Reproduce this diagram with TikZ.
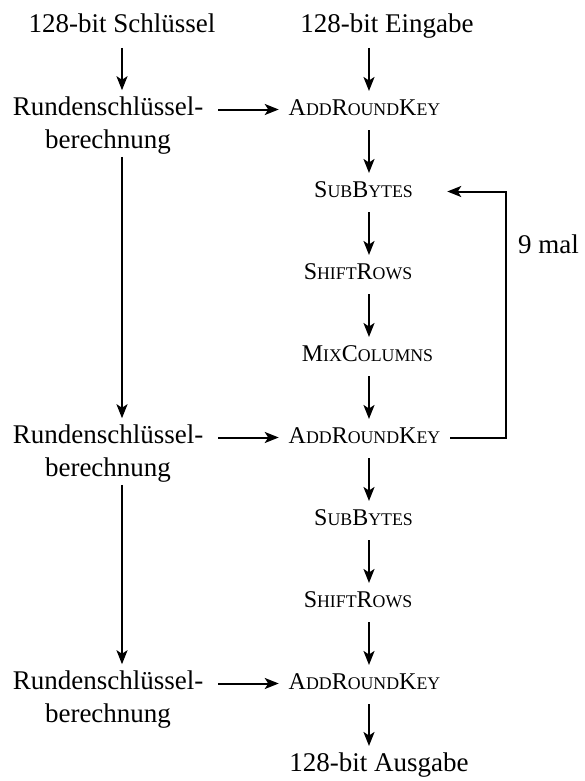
\documentclass[tikz,border=0pt]{standalone}
\usepackage{fontspec}
\setmainfont{Liberation Serif}
\usetikzlibrary{arrows.meta,calc}
\newcommand\fsc[1]{{\fontsize{17.8bp}{20bp}\selectfont #1}}
\begin{document}
\begin{tikzpicture}[x=1bp,y=-1bp,
  txt/.style={font=\fontsize{27bp}{33bp}\selectfont, inner sep=0pt, outer sep=0pt, text height=19bp, text depth=7bp, anchor=base},
  rk/.style={font=\fontsize{27bp}{33bp}\selectfont, inner sep=0pt, outer sep=0pt, align=center, anchor=base},
  op/.style={font=\fontsize{24bp}{28bp}\selectfont, inner sep=0pt, outer sep=0pt, text height=18bp, text depth=7bp, anchor=base},
  conn/.style={line width=2bp, -{Stealth[length=14bp,width=11bp,inset=3.5bp]}},
  flow/.style={conn, shorten <=8bp, shorten >=6bp},
  side/.style={conn, shorten <=15bp, shorten >=10bp}]
\useasboundingbox (0,0) rectangle (585,781);
% column coordinates
\coordinate (c) at (369,0);
\coordinate (lx) at (506,0);
% top row
\node[txt] (key) at (122,33) {128-bit Schlüssel};
\node[txt] (in) at (387,33) {128-bit Eingabe};
% right column
\node[op] (ark1) at (364.5,115) {A\fsc{DD}R\fsc{OUND}K\fsc{EY}};
\node[op] (sb1) at (363.5,197) {S\fsc{UB}B\fsc{YTES}};
\node[op] (sr1) at (358,279) {S\fsc{HIFT}R\fsc{OWS}};
\node[op] (mc) at (367.5,361) {M\fsc{IX}C\fsc{OLUMNS}};
\node[op] (ark2) at (364.5,443) {A\fsc{DD}R\fsc{OUND}K\fsc{EY}};
\node[op] (sb2) at (363.5,525) {S\fsc{UB}B\fsc{YTES}};
\node[op] (sr2) at (358,607) {S\fsc{HIFT}R\fsc{OWS}};
\node[op] (ark3) at (364.5,689) {A\fsc{DD}R\fsc{OUND}K\fsc{EY}};
\node[txt] (out) at (379,771) {128-bit Ausgabe};
% left column (base anchor = baseline of last line)
\node[rk] (rk1) at (108,148) {Rundenschlüssel-\\berechnung};
\node[rk] (rk2) at (108,476) {Rundenschlüssel-\\berechnung};
\node[rk] (rk3) at (108,722) {Rundenschlüssel-\\berechnung};
% loop label
\node[txt, anchor=base west] (nine) at (518,253) {9 mal};
% right column arrows
\draw[flow] (in.south -| c) -- (ark1.north -| c);
\draw[flow] (ark1.south -| c) -- (sb1.north -| c);
\draw[flow] (sb1.south -| c) -- (sr1.north -| c);
\draw[flow] (sr1.south -| c) -- (mc.north -| c);
\draw[flow] (mc.south -| c) -- (ark2.north -| c);
\draw[flow] (ark2.south -| c) -- (sb2.north -| c);
\draw[flow] (sb2.south -| c) -- (sr2.north -| c);
\draw[flow] (sr2.south -| c) -- (ark3.north -| c);
\draw[flow] (ark3.south -| c) -- (out.north -| c);
% left column arrows
\draw[flow] (key.south) -- (key.south |- rk1.north);
\draw[flow, shorten <=3bp] (rk1.south -| key.south) -- (rk2.north -| key.south);
\draw[flow, shorten <=3bp] (rk2.south -| key.south) -- (rk3.north -| key.south);
% round key arrows
\draw[side] (rk1.east |- ark1.west) -- (ark1.west);
\draw[side] (rk2.east |- ark2.west) -- (ark2.west);
\draw[side] (rk3.east |- ark3.west) -- (ark3.west);
% loop
\coordinate (lend) at ([xshift=7bp]sb1.center -| ark2.east);
\draw[conn, shorten <=10bp] (ark2.east) -| (lx |- sb1.center) -- (lend);
\end{tikzpicture}
\end{document}
